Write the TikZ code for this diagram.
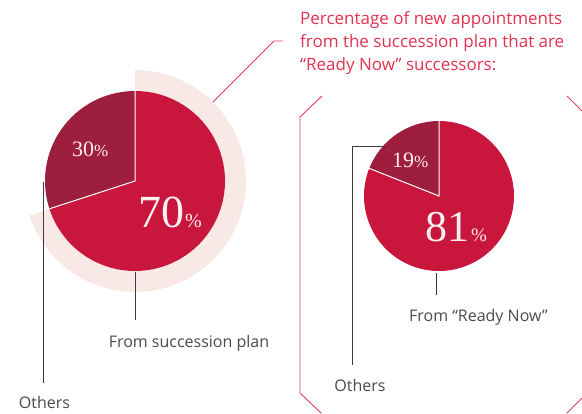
\documentclass[tikz,border=0pt]{standalone}
\usepackage{fontspec}
\setmainfont{Open Sans}
\newfontfamily\numfont{Liberation Serif}
\definecolor{pred}{HTML}{C8163D}
\definecolor{pdark}{HTML}{9E1F3D}
\definecolor{pring}{HTML}{F9E9E6}
\definecolor{ptitle}{HTML}{E2324F}
\definecolor{pframe}{HTML}{E23A62}
\definecolor{ptext}{HTML}{4A4A4A}
\definecolor{pline}{HTML}{3A3A3A}
\definecolor{pwhite}{HTML}{FAEEF0}
\tikzset{
  leader/.style={draw=pline, line width=0.8pt},
  framel/.style={draw=pframe, line width=0.9pt},
  lab/.style={anchor=base, inner sep=0pt, text=ptext, font=\fontsize{16}{18}\selectfont},
  ttl/.style={anchor=base west, inner sep=0pt, text=ptitle, font=\fontsize{17}{19}\selectfont},
  num/.style={anchor=base west, inner sep=0pt, text=pwhite},
  sep/.style={draw=white, line width=1pt}
}
\begin{document}
\begin{tikzpicture}[x=1pt,y=1pt]
\useasboundingbox (0,0) rectangle (582,414);
% left pie
\coordinate (L) at (135,233);
\fill[pring] ([shift={(90:111)}]L) arc[start angle=90,end angle=-162,radius=111]
  -- ([shift={(-162:90)}]L) arc[start angle=-162,end angle=90,radius=90] -- cycle;
\fill[pred] (L) -- ([shift={(-162:90)}]L) arc[start angle=-162,end angle=90,radius=90] -- cycle;
\fill[pdark] (L) -- ([shift={(90:90)}]L) arc[start angle=90,end angle=198,radius=90] -- cycle;
\draw[sep] ([shift={(90:90)}]L) -- (L) -- ([shift={(198:90)}]L);
\node[num] (n30) at (72,257) {\numfont{\fontsize{22}{22}\selectfont 30}{\fontsize{17}{17}\selectfont\%}};
\node[num] (n70) at (138,186) {\numfont{\fontsize{46}{46}\selectfont 70}\hspace{1pt}{\fontsize{20}{20}\selectfont\%}};
% right pie
\coordinate (R) at (439,218);
\fill[pred] (R) -- ([shift={(158.4:75)}]R) arc[start angle=158.4,end angle=450,radius=75] -- cycle;
\fill[pdark] (R) -- ([shift={(90:75)}]R) arc[start angle=90,end angle=158.4,radius=75] -- cycle;
\draw[sep] ([shift={(90:75)}]R) -- (R) -- ([shift={(158.4:75)}]R);
\node[num] (n19) at (392,246) {\numfont{\fontsize{22}{22}\selectfont 19}{\fontsize{17}{17}\selectfont\%}};
\node[num] (n81) at (425,172) {\numfont{\fontsize{44}{44}\selectfont 81}\hspace{2pt}{\fontsize{19}{19}\selectfont\%}};
% left leaders
\node[lab] (oth1) at (44.5,5) {Others};
\coordinate (o1a) at (43,232);
\coordinate (o1b) at (43,31);
\draw[leader] (o1a) -- (o1b);
\node[lab] (fsp) at (189,66) {From succession plan};
\coordinate (f1a) at (135,142);
\coordinate (f1b) at (135,94);
\draw[leader] (f1a) -- (f1b);
% right leaders
\node[lab] (oth2) at (360,22) {Others};
\coordinate (o2a) at (385,268);
\coordinate (o2k) at (352,268);
\coordinate (o2b) at (352,49);
\draw[leader] (o2a) -- (o2k) -- (o2b);
\node[lab] (frn) at (478.5,92) {From “Ready Now”};
\coordinate (f2a) at (436,141);
\coordinate (f2b) at (436,119);
\draw[leader] (f2a) -- (f2b);
% title
\node[ttl] (t1) at (300,389) {Percentage of new appointments};
\node[ttl] (t2) at (300,366) {from the succession plan that are};
\node[ttl] (t3) at (300,343) {“Ready Now” successors:};
% pink connector
\coordinate (c1) at (213,312);
\coordinate (c2) at (274,373);
\coordinate (c3) at (283,373);
\draw[framel] (c1) -- (c2) -- (c3);
% frame
\coordinate (fa) at (322,318);
\coordinate (fb) at (300,297);
\coordinate (fc) at (300,21);
\coordinate (fd) at (321,1);
\draw[framel] (fa) -- (fb) -- (fc) -- (fd);
\coordinate (fe) at (567,318);
\coordinate (ff) at (583,302);
\draw[framel] (fe) -- (ff);
\coordinate (fg) at (567,1);
\coordinate (fh) at (583,17);
\draw[framel] (fg) -- (fh);
\end{tikzpicture}
\end{document}
